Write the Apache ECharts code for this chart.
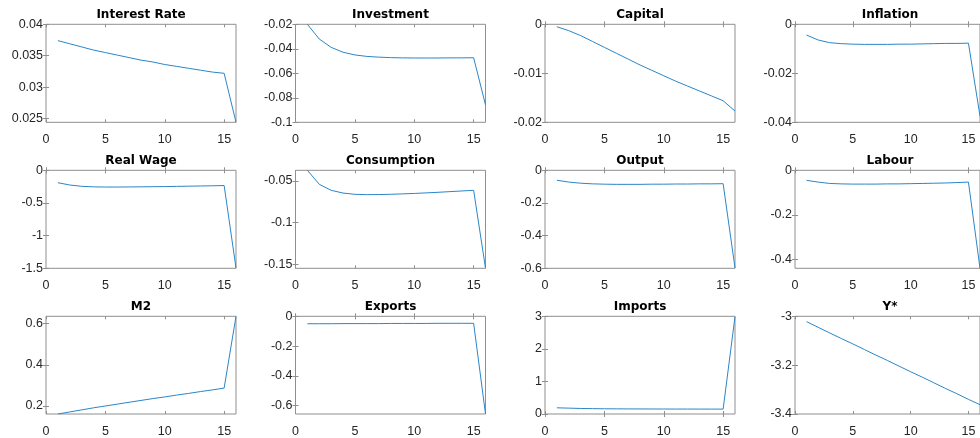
<!DOCTYPE html>
<html>
<head>
<meta charset="utf-8">
<title>Impulse responses</title>
<script src="https://cdn.jsdelivr.net/npm/echarts@6/dist/echarts.min.js"></script>
<style>
  html, body { margin: 0; padding: 0; background: #ffffff; }
  #chart { width: 980px; height: 438px; }
</style>
</head>
<body>
<div id="chart"></div>
<script>
// Horizon (periods after the shock)
const periods = [1, 2, 3, 4, 5, 6, 7, 8, 9, 10, 11, 12, 13, 14, 15, 16];
const xTicks = [0, 5, 10, 15];

// Responses of each variable
const interestRate = [0.0374, 0.0369, 0.0364, 0.0359, 0.0355, 0.0351, 0.0347, 0.0343, 0.0340, 0.0336, 0.0333, 0.0330, 0.0327, 0.0324, 0.0322, 0.0244];
const investment   = [-0.0200, -0.0320, -0.0388, -0.0428, -0.0450, -0.0462, -0.0468, -0.0472, -0.0474, -0.0475, -0.0475, -0.0475, -0.0474, -0.0474, -0.0473, -0.0858];
const capital      = [-0.0005, -0.0013, -0.0023, -0.0035, -0.0047, -0.0059, -0.0071, -0.0083, -0.0094, -0.0105, -0.0116, -0.0126, -0.0136, -0.0146, -0.0156, -0.0177];
const inflation    = [-0.0044, -0.0064, -0.0075, -0.0079, -0.0081, -0.0082, -0.0082, -0.0082, -0.0081, -0.0081, -0.0080, -0.0079, -0.0078, -0.0078, -0.0077, -0.0375];
const realWage     = [-0.190, -0.225, -0.245, -0.253, -0.256, -0.256, -0.255, -0.253, -0.251, -0.249, -0.246, -0.243, -0.240, -0.237, -0.233, -1.495];
const consumption  = [-0.0372, -0.0540, -0.0612, -0.0645, -0.0660, -0.0664, -0.0663, -0.0660, -0.0655, -0.0650, -0.0643, -0.0636, -0.0628, -0.0620, -0.0612, -0.1548];
const output       = [-0.061, -0.072, -0.079, -0.083, -0.085, -0.086, -0.086, -0.086, -0.085, -0.085, -0.084, -0.084, -0.083, -0.083, -0.082, -0.598];
const labour       = [-0.045, -0.053, -0.059, -0.061, -0.062, -0.062, -0.062, -0.061, -0.061, -0.060, -0.059, -0.058, -0.057, -0.055, -0.053, -0.440];
const m2           = [0.161, 0.171, 0.181, 0.191, 0.200, 0.209, 0.218, 0.227, 0.236, 0.244, 0.253, 0.261, 0.270, 0.278, 0.287, 0.636];
const exportsResp  = [-0.050, -0.050, -0.050, -0.049, -0.049, -0.049, -0.049, -0.048, -0.048, -0.048, -0.048, -0.047, -0.047, -0.047, -0.047, -0.656];
const importsResp  = [0.19, 0.18, 0.17, 0.165, 0.16, 0.158, 0.156, 0.155, 0.154, 0.153, 0.152, 0.152, 0.151, 0.151, 0.150, 2.99];
const foreignOutput = [-3.022, -3.045, -3.068, -3.091, -3.113, -3.136, -3.159, -3.181, -3.204, -3.227, -3.249, -3.272, -3.295, -3.317, -3.340, -3.362];

// Panel titles, in reading order
const titles = ['Interest Rate', 'Investment', 'Capital', 'Inflation',
                'Real Wage', 'Consumption', 'Output', 'Labour',
                'M2', 'Exports', 'Imports', 'Y*'];
const responses = [interestRate, investment, capital, inflation,
                   realWage, consumption, output, labour,
                   m2, exportsResp, importsResp, foreignOutput];

// Y-axis limits and tick labels per panel
const yMins = [0.0244, -0.1, -0.02, -0.04, -1.5, -0.1548, -0.6, -0.44, 0.161, -0.656, 0, -3.4];
const yMaxs = [0.04, -0.02, 0, 0, 0, -0.0372, 0, 0, 0.636, 0, 3, -3];
const yTicks = [
  [0.025, 0.03, 0.035, 0.04],
  [-0.1, -0.08, -0.06, -0.04, -0.02],
  [-0.02, -0.01, 0],
  [-0.04, -0.02, 0],
  [-1.5, -1, -0.5, 0],
  [-0.15, -0.1, -0.05],
  [-0.6, -0.4, -0.2, 0],
  [-0.4, -0.2, 0],
  [0.2, 0.4, 0.6],
  [-0.6, -0.4, -0.2, 0],
  [0, 1, 2, 3],
  [-3.4, -3.2, -3]
];

// Layout of the 3 x 4 panel grid (pixels)
const colLeft = [46, 295.5, 545, 795];
const rowTop = [24.3, 170.3, 316.3];
const plotW = 190;
const plotH = 98;

const boxColor = '#8f8f8f';
const labelColor = '#262626';
const lineColor = '#2a86c8';
const labelFont = '"Liberation Sans", Arial, Helvetica, sans-serif';

const option = {
  animation: false,
  backgroundColor: '#ffffff',
  title: [], grid: [], xAxis: [], yAxis: [], series: []
};

responses.forEach((values, i) => {
  const r = Math.floor(i / 4);
  const c = i % 4;
  const left = colLeft[c];
  const top = rowTop[r];

  option.grid.push({
    left: left, top: top, width: plotW, height: plotH,
    show: true, borderColor: boxColor, borderWidth: 1,
    backgroundColor: 'transparent', containLabel: false
  });

  option.title.push({
    text: titles[i],
    left: left + plotW / 2,
    top: top - 17,
    textAlign: 'center',
    padding: 0,
    textStyle: { fontFamily: 'DejaVu Sans', fontWeight: 'bold', fontSize: 12, lineHeight: 16, color: '#000000' }
  });

  const tickCommon = { show: true, inside: true, length: 3, lineStyle: { color: boxColor, width: 1 } };

  // bottom x axis with labels
  option.xAxis.push({
    type: 'value', gridIndex: i, min: 0, max: 16, position: 'bottom',
    axisLine: { show: false }, splitLine: { show: false },
    axisTick: Object.assign({ customValues: xTicks }, tickCommon),
    axisLabel: { customValues: xTicks, color: labelColor, fontSize: 12.5, fontFamily: labelFont, margin: 11 }
  });
  // top mirror x axis (ticks only)
  option.xAxis.push({
    type: 'value', gridIndex: i, min: 0, max: 16, position: 'top',
    axisLine: { show: false }, splitLine: { show: false },
    axisTick: Object.assign({ customValues: xTicks }, tickCommon),
    axisLabel: { show: false }
  });
  // left y axis with labels
  option.yAxis.push({
    type: 'value', gridIndex: i, min: yMins[i], max: yMaxs[i], position: 'left',
    axisLine: { show: false }, splitLine: { show: false },
    axisTick: Object.assign({ customValues: yTicks[i] }, tickCommon),
    axisLabel: { customValues: yTicks[i], color: labelColor, fontSize: 12.5, fontFamily: labelFont, margin: 3 }
  });
  // right mirror y axis (ticks only)
  option.yAxis.push({
    type: 'value', gridIndex: i, min: yMins[i], max: yMaxs[i], position: 'right',
    axisLine: { show: false }, splitLine: { show: false },
    axisTick: Object.assign({ customValues: yTicks[i] }, tickCommon),
    axisLabel: { show: false }
  });

  option.series.push({
    type: 'line',
    xAxisIndex: 2 * i,
    yAxisIndex: 2 * i,
    data: periods.map((p, k) => [p, values[k]]),
    symbol: 'none',
    clip: true,
    lineStyle: { color: lineColor, width: 1 },
    emphasis: { disabled: true }
  });
});

const chart = echarts.init(document.getElementById('chart'), null, { renderer: 'canvas' });
chart.setOption(option);
</script>
</body>
</html>
